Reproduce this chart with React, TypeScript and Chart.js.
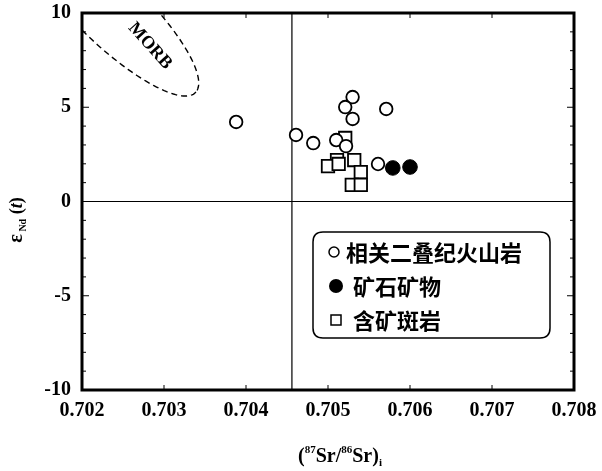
import React, { useEffect, useRef } from "react";
import { Chart, registerables } from "chart.js";
Chart.register(...registerables);

// ---- data ----
const volcanicSr = [0.70388, 0.70461, 0.70482, 0.7051, 0.70522, 0.7053, 0.70521, 0.7053, 0.70571, 0.70561];
const volcanicNd = [4.22, 3.53, 3.1, 3.26, 2.94, 5.54, 5.01, 4.38, 4.91, 1.99];
const oreSr = [0.70579, 0.706];
const oreNd = [1.78, 1.83];
const porphyrySr = [0.70521, 0.70511, 0.705, 0.70513, 0.70532, 0.7054, 0.70529, 0.7054];
const porphyryNd = [3.37, 2.2, 1.88, 1.99, 2.2, 1.56, 0.88, 0.88];

const seriesLabels = ["相关二叠纪火山岩", "矿石矿物", "含矿斑岩"];
const xTicks = [0.702, 0.703, 0.704, 0.705, 0.706, 0.707, 0.708];
const yTicks = [-10, -5, 0, 5, 10];
const xMin = 0.702, xMax = 0.708, yMin = -10, yMax = 10;
const refLineSr = 0.70456;
const refLineNd = 0;
// MORB field: centre and conjugate semi-axis vectors (data units)
const morbCenter = [0.702341, 10.159];
const morbAxisA = [0.0010488, -4.35];
const morbAxisB = [-0.000268, -1.379];
const morbLabel = "MORB";
const morbLabelPos = [0.702829, 8.25];

const SERIF = "'Liberation Serif', 'DejaVu Serif', serif";
const CJK = "'Noto Sans CJK SC', sans-serif";

function toPts(xs: number[], ys: number[]) {
  return xs.map((x, i) => ({ x, y: ys[i] }));
}

const decorPlugin = {
  id: "decor",
  beforeDatasetsDraw(chart: any) {
    const { ctx, chartArea: a, scales } = chart;
    const xs = scales.x, ys = scales.y;
    ctx.save();
    ctx.strokeStyle = "#000";
    ctx.lineWidth = 1.2;
    ctx.beginPath();
    const y0 = ys.getPixelForValue(refLineNd);
    ctx.moveTo(a.left, y0);
    ctx.lineTo(a.right, y0);
    const x0 = xs.getPixelForValue(refLineSr);
    ctx.moveTo(x0, a.top);
    ctx.lineTo(x0, a.bottom);
    ctx.stroke();
    ctx.beginPath();
    ctx.rect(a.left, a.top, a.right - a.left, a.bottom - a.top);
    ctx.clip();
    ctx.setLineDash([6, 4]);
    ctx.lineWidth = 1.4;
    ctx.beginPath();
    for (let i = 0; i <= 180; i++) {
      const t = (i / 180) * Math.PI * 2;
      const vx = morbCenter[0] + Math.cos(t) * morbAxisA[0] + Math.sin(t) * morbAxisB[0];
      const vy = morbCenter[1] + Math.cos(t) * morbAxisA[1] + Math.sin(t) * morbAxisB[1];
      const px = xs.getPixelForValue(vx), py = ys.getPixelForValue(vy);
      if (i === 0) ctx.moveTo(px, py); else ctx.lineTo(px, py);
    }
    ctx.stroke();
    ctx.setLineDash([]);
    ctx.translate(xs.getPixelForValue(morbLabelPos[0]), ys.getPixelForValue(morbLabelPos[1]));
    ctx.rotate((48 * Math.PI) / 180);
    ctx.font = `bold 18px ${SERIF}`;
    ctx.fillStyle = "#000";
    ctx.textAlign = "center";
    ctx.textBaseline = "middle";
    ctx.fillText(morbLabel, 0, 0);
    ctx.restore();
  },
  afterDraw(chart: any) {
    const { ctx, chartArea: a, scales } = chart;
    const xs = scales.x, ys = scales.y;
    ctx.save();
    ctx.strokeStyle = "#000";
    ctx.lineWidth = 1;
    ctx.beginPath();
    for (let v = yMin; v <= yMax; v++) {
      const py = ys.getPixelForValue(v);
      const len = v % 5 === 0 ? 7 : 4;
      ctx.moveTo(a.left, py); ctx.lineTo(a.left + len, py);
      ctx.moveTo(a.right, py); ctx.lineTo(a.right - len, py);
    }
    xTicks.forEach((v) => {
      const px = xs.getPixelForValue(v);
      ctx.moveTo(px, a.bottom); ctx.lineTo(px, a.bottom - 5);
      ctx.moveTo(px, a.top); ctx.lineTo(px, a.top + 5);
    });
    ctx.stroke();
    ctx.lineWidth = 3;
    ctx.strokeRect(a.left, a.top, a.right - a.left, a.bottom - a.top);

    // legend
    const lx = 313, ly = 232, lw = 237, lh = 106, r = 10;
    ctx.lineWidth = 1.5;
    ctx.beginPath();
    ctx.moveTo(lx + r, ly);
    ctx.lineTo(lx + lw - r, ly);
    ctx.quadraticCurveTo(lx + lw, ly, lx + lw, ly + r);
    ctx.lineTo(lx + lw, ly + lh - r);
    ctx.quadraticCurveTo(lx + lw, ly + lh, lx + lw - r, ly + lh);
    ctx.lineTo(lx + r, ly + lh);
    ctx.quadraticCurveTo(lx, ly + lh, lx, ly + lh - r);
    ctx.lineTo(lx, ly + r);
    ctx.quadraticCurveTo(lx, ly, lx + r, ly);
    ctx.fillStyle = "#fff";
    ctx.fill();
    ctx.stroke();
    const rows = [252, 286, 320];
    ctx.fillStyle = "#000";
    ctx.lineWidth = 1.5;
    ctx.beginPath();
    ctx.arc(334, rows[0], 5, 0, Math.PI * 2);
    ctx.stroke();
    ctx.beginPath();
    ctx.arc(336, rows[1], 7, 0, Math.PI * 2);
    ctx.fill();
    ctx.strokeRect(331, rows[2] - 5, 10, 10);
    ctx.font = `bold 22px ${CJK}`;
    ctx.textAlign = "left";
    ctx.textBaseline = "middle";
    ctx.fillText(seriesLabels[0], 346, rows[0] + 1);
    ctx.fillText(seriesLabels[1], 353, rows[1] + 1);
    ctx.fillText(seriesLabels[2], 353, rows[2] + 1);

    // x axis title
    const parts: [string, number, number, string][] = [
      ["(", 20, 0, "bold"],
      ["87", 11, -9, "bold"],
      ["Sr/", 20, 0, "bold"],
      ["86", 11, -9, "bold"],
      ["Sr)", 20, 0, "bold"],
      ["i", 11, 4, "bold"],
    ];
    ctx.textBaseline = "alphabetic";
    let total = 0;
    parts.forEach(([t, s, , w]) => {
      ctx.font = `${w} ${s}px ${SERIF}`;
      total += ctx.measureText(t).width;
    });
    let cx = 340 - total / 2;
    parts.forEach(([t, s, dy, w]) => {
      ctx.font = `${w} ${s}px ${SERIF}`;
      ctx.fillText(t, cx, 462 + dy);
      cx += ctx.measureText(t).width;
    });

    // y axis title
    ctx.translate(16, 220);
    ctx.rotate(-Math.PI / 2);
    const yparts: [string, number, number, string][] = [
      ["ε", 20, 0, "bold"],
      [" Nd", 10, 4, "bold"],
      [" (", 18, 0, "bold"],
      ["t", 18, 0, "bold italic"],
      [")", 18, 0, "bold"],
    ];
    total = 0;
    yparts.forEach(([t, s, , w]) => {
      ctx.font = `${w} ${s}px ${SERIF}`;
      total += ctx.measureText(t).width;
    });
    cx = -total / 2;
    yparts.forEach(([t, s, dy, w]) => {
      ctx.font = `${w} ${s}px ${SERIF}`;
      ctx.fillText(t, cx, 6 + dy);
      cx += ctx.measureText(t).width;
    });
    ctx.restore();
  },
};

export default function App() {
  const ref = useRef<HTMLCanvasElement | null>(null);
  useEffect(() => {
    if (!ref.current) return;
    const chart = new Chart(ref.current, {
      type: "scatter",
      data: {
        datasets: [
          {
            label: seriesLabels[0],
            data: toPts(volcanicSr, volcanicNd),
            pointStyle: "circle",
            pointRadius: 6.3,
            pointBorderWidth: 1.8,
            pointBackgroundColor: "#fff",
            pointBorderColor: "#000",
          },
          {
            label: seriesLabels[2],
            data: toPts(porphyrySr, porphyryNd),
            pointStyle: "rect",
            pointRadius: 8.8,
            pointBorderWidth: 1.8,
            pointBackgroundColor: "#fff",
            pointBorderColor: "#000",
          },
          {
            label: seriesLabels[1],
            data: toPts(oreSr, oreNd),
            pointStyle: "circle",
            pointRadius: 7.3,
            pointBorderWidth: 1,
            pointBackgroundColor: "#000",
            pointBorderColor: "#000",
          },
        ],
      },
      options: {
        animation: false,
        responsive: false,
        maintainAspectRatio: false,
        layout: { padding: { left: 0, top: 13, right: 28, bottom: 0 } },
        plugins: { legend: { display: false }, tooltip: { enabled: false } },
        scales: {
          x: {
            type: "linear",
            min: xMin,
            max: xMax,
            afterBuildTicks: (s: any) => {
              s.ticks = xTicks.map((v) => ({ value: v }));
            },
            ticks: {
              callback: (v: any) => Number(v).toFixed(3),
              font: { family: SERIF, size: 20, weight: "bold" },
              color: "#000",
              padding: 9,
              maxRotation: 0,
              autoSkip: false,
            },
            grid: { display: false, drawTicks: false, tickLength: 0 },
            border: { display: false },
            afterFit: (s: any) => {
              s.height = 81;
              s.paddingLeft = 0;
              s.paddingRight = 0;
            },
          },
          y: {
            type: "linear",
            min: yMin,
            max: yMax,
            afterBuildTicks: (s: any) => {
              s.ticks = yTicks.map((v) => ({ value: v }));
            },
            ticks: {
              font: { family: SERIF, size: 20, weight: "bold" },
              color: "#000",
              padding: 11,
              autoSkip: false,
            },
            grid: { display: false, drawTicks: false, tickLength: 0 },
            border: { display: false },
            afterFit: (s: any) => {
              s.width = 82;
              s.paddingTop = 0;
              s.paddingBottom = 0;
            },
          },
        },
      },
      plugins: [decorPlugin],
    });
    return () => chart.destroy();
  }, []);
  return (
    <div style={{ position: "fixed", left: 0, top: 0, width: 602, height: 471, background: "#fff" }}>
      <canvas ref={ref} width={602} height={471} style={{ width: 602, height: 471 }} />
    </div>
  );
}
